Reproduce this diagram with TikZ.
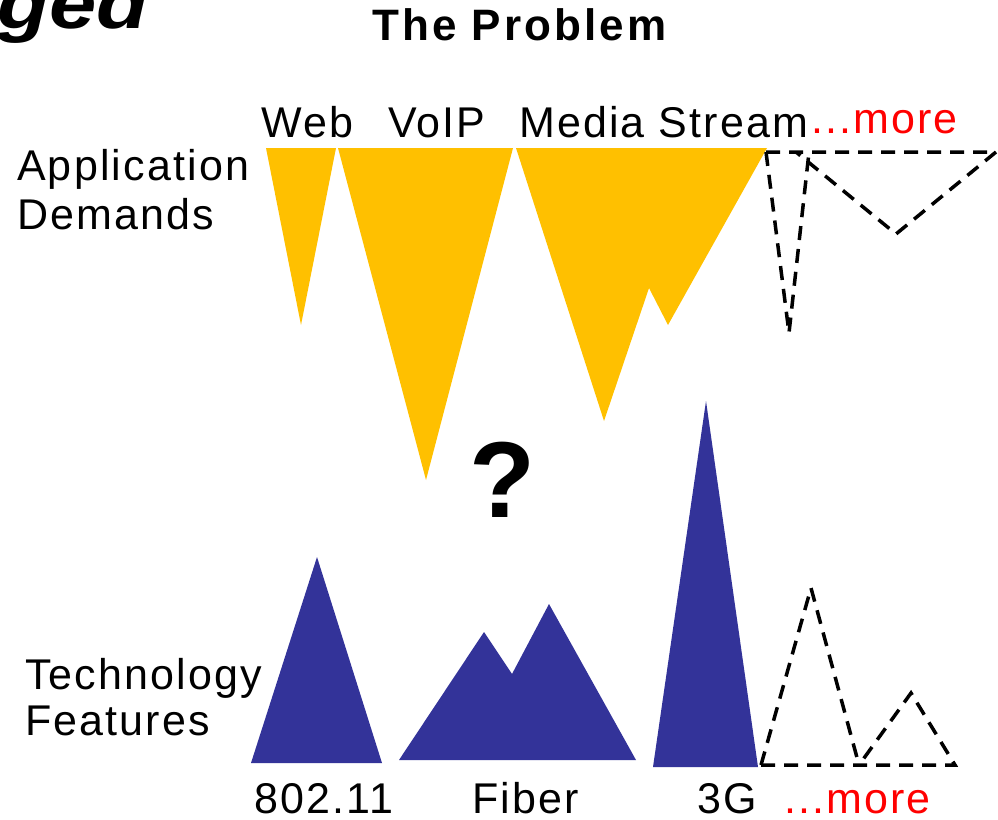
\documentclass[tikz,border=0pt]{standalone}
\usepackage{fontspec}
\setmainfont{Liberation Sans}
\newfontfamily\bodyfont[LetterSpace=5]{Liberation Sans}
\newfontfamily\titlefont[LetterSpace=7]{Liberation Sans}
\definecolor{demand}{HTML}{FFC000}
\definecolor{tech}{HTML}{333399}
\definecolor{morered}{HTML}{FF0000}
\tikzset{
  label text/.style={inner sep=0pt, anchor=base west, font=\bodyfont\fontsize{43}{43}\selectfont},
  more text/.style={label text, text=morered},
  demand shape/.style={fill=demand, draw=none},
  tech shape/.style={fill=tech, draw=none},
  future shape/.style={draw=black, line width=3.5pt, dash pattern=on 14pt off 9pt, line join=miter},
}
\begin{document}
\begin{tikzpicture}[x=1pt,y=-1pt]
\useasboundingbox (0,0) rectangle (998,819);

% heading fragments
\node[inner sep=0pt, anchor=base east, font=\fontsize{72}{72}\selectfont\bfseries\itshape] (ged) at (149,28) {\scalebox{1.18}[1]{ged}};
\node[inner sep=0pt, anchor=base west, font=\titlefont\fontsize{44}{44}\selectfont\bfseries] (title) at (372,40) {The Problem};

% application demands (upper row)
\fill[demand shape] (266,148) -- (336,148) -- (301,325) -- cycle;
\fill[demand shape] (338,148) -- (513,148) -- (426,480) -- cycle;
\fill[demand shape] (516,148) -- (767,148) -- (668,325) -- (649,288) -- (604,421) -- cycle;
\draw[future shape] (766,152) -- (996,152) -- (896,234) -- (796,152);
\draw[future shape] (766,152) -- (789,333) -- (809,152);

\node[label text] (web) at (261,137) {Web};
\node[label text] (voip) at (388,137) {VoIP};
\node[label text] (media) at (519,137) {Media Stream};
\node[more text] (moretop) at (811,133) {...more};
\node[label text] (app) at (17,180) {Application};
\node[label text] (dem) at (17,229) {Demands};

% the gap between them
\node[inner sep=0pt, anchor=base west, font=\fontsize{108}{108}\selectfont\bfseries] (q) at (469,517) {?};

% technology features (lower row)
\fill[tech shape] (251,763) -- (317,557) -- (382,763) -- cycle;
\fill[tech shape] (399,760) -- (484,632) -- (512,674) -- (549,604) -- (636,760) -- cycle;
\fill[tech shape] (653,767) -- (706,401) -- (758,767) -- cycle;
\draw[future shape] (761,765) -- (955,765) -- (911,693) -- (859,765);
\draw[future shape] (761,765) -- (811,588) -- (859,765);

\node[label text] (tec) at (25,689) {Technology};
\node[label text] (fea) at (25,735) {Features};
\node[label text] (wifi) at (254,813) {802.11};
\node[label text] (fiber) at (472,813) {Fiber};
\node[label text] (g3) at (697,813) {3G};
\node[more text] (morebot) at (784,813) {...more};
\end{tikzpicture}
\end{document}
